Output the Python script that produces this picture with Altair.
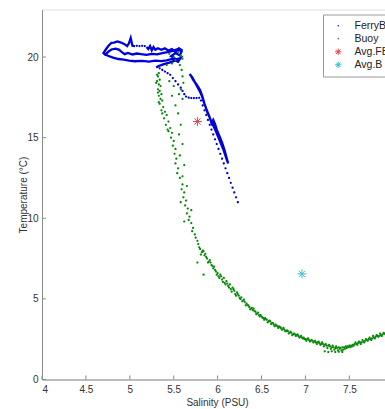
import altair as alt
import pandas as pd

# ---------------- data ----------------
series_names = ["FerryBox", "Buoy", "Avg.FB", "Avg.B"]
series_fill = ["#0000dd", "#0a8a0a", "transparent", "transparent"]
series_stroke = ["transparent", "transparent", "#e04848", "#3cbccc"]
dot = "M-0.25,0A0.25,0.25 0 1,0 0.25,0A0.25,0.25 0 1,0 -0.25,0Z"
asterisk = "M0,-1L0,1M-1,0L1,0M-0.7,-0.7L0.7,0.7M-0.7,0.7L0.7,-0.7"
series_shape = [dot, dot, asterisk, asterisk]

x_ticks = [4, 4.5, 5, 5.5, 6, 6.5, 7, 7.5]
y_ticks = [0, 5, 10, 15, 20]

# FerryBox dense track (drawn as connected traces)
ferry_track_top1 = [
    (5.60, 20.4), (5.56, 20.55), (5.52, 20.3), (5.48, 20.5), (5.44, 20.4), (5.40, 20.55),
    (5.36, 20.45), (5.32, 20.55), (5.29, 20.45), (5.27, 20.62), (5.25, 20.42), (5.23, 20.68),
    (5.21, 20.5), (5.19, 20.62),
]
ferry_track_top2 = [
    (5.06, 20.68), (5.03, 20.7), (5.01, 21.18), (4.99, 20.85), (4.97, 20.68), (4.94, 20.8),
    (4.90, 20.9), (4.86, 20.97), (4.82, 20.9), (4.79, 20.88), (4.76, 20.72), (4.73, 20.5),
    (4.70, 20.25), (4.72, 20.15), (4.76, 20.35), (4.79, 20.47), (4.84, 20.52), (4.88, 20.45),
    (4.91, 20.3), (4.94, 20.18), (4.98, 20.26), (5.03, 20.16), (5.08, 20.22), (5.13, 20.18),
    (5.19, 20.14), (5.25, 20.2), (5.31, 20.17), (5.37, 20.25), (5.43, 20.3), (5.49, 20.38),
    (5.54, 20.48), (5.59, 20.35), (5.57, 20.1), (5.52, 20.25), (5.47, 20.05), (5.53, 19.85),
    (5.58, 19.95), (5.55, 19.7), (5.48, 19.88), (5.42, 19.8), (5.36, 19.75), (5.29, 19.78),
    (5.22, 19.72), (5.14, 19.76), (5.06, 19.74), (4.99, 19.78), (4.93, 19.84), (4.87, 19.88),
    (4.81, 19.97), (4.75, 20.08), (4.71, 20.2),
]
ferry_track_drop = [
    (5.55, 19.9), (5.50, 19.75), (5.45, 19.65), (5.38, 19.55), (5.33, 19.45), (5.30, 19.35),
]
ferry_track_right = [
    (5.69, 18.9), (5.72, 18.6), (5.76, 18.3), (5.80, 17.95), (5.83, 17.5), (5.85, 17.1),
    (5.87, 16.8), (5.90, 16.4), (5.92, 16.1), (5.93, 15.9), (5.95, 16.1), (5.97, 15.85),
    (5.99, 15.5), (6.02, 15.1), (6.05, 14.7), (6.08, 14.2), (6.10, 13.8), (6.12, 13.4),
    (6.10, 13.7), (6.07, 14.2), (6.04, 14.6), (6.01, 15.0), (5.98, 15.4), (5.95, 15.75),
    (5.93, 15.95), (5.91, 16.25), (5.88, 16.6), (5.86, 16.95), (5.84, 17.25), (5.82, 17.6),
    (5.79, 17.95), (5.75, 18.35), (5.71, 18.75), (5.68, 18.95),
]
# FerryBox sparse points
ferry_dots = [
    (5.34, 19.3), (5.37, 19.2), (5.40, 19.1), (5.43, 19.0), (5.46, 18.9), (5.49, 18.7),
    (5.52, 18.5), (5.55, 18.3), (5.58, 18.1), (5.60, 17.9), (5.62, 17.7), (5.64, 17.55),
    (5.67, 17.48), (5.70, 17.46), (5.73, 17.46), (5.76, 17.46), (5.79, 17.47),
    (5.81, 17.3), (5.83, 17.0), (5.85, 16.7), (5.87, 16.4), (5.89, 16.1), (5.91, 15.8),
    (5.93, 15.5), (5.95, 15.2), (5.97, 14.9), (5.99, 14.6), (6.01, 14.3), (6.03, 14.0),
    (6.05, 13.7), (6.07, 13.4), (6.09, 13.1), (6.11, 12.8), (6.13, 12.5), (6.15, 12.2),
    (6.17, 11.9), (6.19, 11.6), (6.21, 11.3), (6.23, 11.0),
    (5.17, 20.68), (5.14, 20.7), (5.11, 20.68), (5.08, 20.7),
]

# Buoy points
buoy_upper = [
    (5.45, 20.2), (5.50, 20.0), (5.52, 19.8), (5.48, 19.6), (5.42, 19.5), (5.55, 20.3),
    (5.58, 20.1), (5.60, 19.9), (5.57, 19.5), (5.59, 19.2), (5.60, 18.8), (5.61, 18.4),
    (5.58, 18.0), (5.56, 17.7), (5.60, 17.4),
    (5.33, 19.0), (5.32, 18.8), (5.34, 18.6), (5.31, 18.5), (5.33, 18.3), (5.35, 18.2),
    (5.32, 18.0), (5.34, 17.9), (5.36, 17.7), (5.33, 17.6), (5.35, 17.4), (5.37, 17.3),
    (5.34, 17.1), (5.38, 16.9), (5.36, 16.7), (5.40, 16.6), (5.42, 16.4), (5.39, 16.2),
    (5.44, 16.0), (5.41, 15.8), (5.46, 15.6), (5.44, 15.4), (5.48, 15.3), (5.47, 15.0),
    (5.50, 14.8), (5.49, 14.5), (5.52, 14.3), (5.51, 14.0), (5.53, 13.7), (5.52, 13.4),
    (5.55, 13.1), (5.54, 12.8), (5.57, 12.5), (5.60, 12.1), (5.59, 11.8), (5.62, 11.6),
    (5.61, 11.3), (5.64, 11.1), (5.63, 10.8), (5.66, 10.6), (5.65, 10.3), (5.68, 10.1),
    (5.67, 9.9), (5.70, 9.7), (5.72, 9.4), (5.71, 9.2), (5.74, 9.0), (5.75, 8.8),
    (5.77, 8.6), (5.78, 8.4), (5.79, 8.2),
    (5.45, 18.5), (5.50, 18.2), (5.48, 17.6), (5.52, 17.0), (5.55, 16.5), (5.58, 15.8),
    (5.56, 15.2), (5.60, 14.6), (5.57, 13.9), (5.62, 13.3), (5.60, 12.6), (5.65, 12.0),
    (5.58, 11.0), (5.70, 10.5), (5.62, 9.8), (5.77, 7.25), (5.84, 6.5),
    (5.31, 18.9), (5.30, 18.4), (5.32, 17.8), (5.33, 17.2), (5.37, 16.5), (5.43, 15.5),
]
buoy_lower = [
    (5.80, 8.1), (5.82, 7.9), (5.83, 8.0), (5.85, 7.7), (5.86, 7.8), (5.88, 7.5),
    (5.90, 7.3), (5.91, 7.4), (5.93, 7.1), (5.95, 6.9), (5.96, 7.0), (5.98, 6.7),
    (6.00, 6.6), (6.01, 6.4), (6.03, 6.5), (6.05, 6.2), (6.07, 6.3), (6.08, 6.0),
    (6.10, 6.1), (6.12, 5.8), (6.14, 5.9), (6.15, 5.6), (6.17, 5.7), (6.19, 5.5),
    (6.20, 5.3), (6.22, 5.4), (6.24, 5.2), (6.26, 5.0), (6.27, 5.1), (6.29, 4.9),
    (6.31, 4.8), (6.33, 4.7), (6.34, 4.6), (6.36, 4.5), (6.38, 4.4), (6.40, 4.3),
    (6.41, 4.4), (6.43, 4.2), (6.45, 4.1), (6.47, 4.0), (6.49, 4.0), (6.50, 3.9),
    (6.52, 3.8), (6.54, 3.8), (6.56, 3.7), (6.58, 3.6), (6.60, 3.6), (6.62, 3.5),
    (6.64, 3.4), (6.66, 3.4), (6.68, 3.3), (6.70, 3.3), (6.72, 3.2), (6.74, 3.1),
    (6.76, 3.1), (6.78, 3.0), (6.80, 3.0), (6.82, 2.9), (6.84, 2.9), (6.86, 2.8),
    (6.88, 2.8), (6.90, 2.75), (6.92, 2.7), (6.94, 2.65), (6.96, 2.6), (6.98, 2.6),
    (7.00, 2.5), (7.02, 2.5), (7.04, 2.45), (7.06, 2.4), (7.08, 2.4), (7.10, 2.35),
    (7.12, 2.3), (7.14, 2.3), (7.16, 2.25), (7.18, 2.2), (7.20, 2.2), (7.22, 2.15),
    (7.24, 2.1), (7.26, 2.1), (7.28, 2.05), (7.30, 2.0), (7.32, 2.0), (7.34, 1.95),
    (7.36, 1.95), (7.38, 2.0), (7.40, 1.95), (7.42, 2.0), (7.44, 2.0), (7.46, 2.05),
    (7.48, 2.05), (7.50, 2.1), (7.52, 2.1), (7.54, 2.15), (7.56, 2.2), (7.58, 2.2),
    (7.60, 2.25), (7.62, 2.3), (7.64, 2.3), (7.66, 2.35), (7.68, 2.4), (7.70, 2.45),
    (7.72, 2.5), (7.74, 2.5), (7.76, 2.55), (7.78, 2.6), (7.80, 2.65), (7.82, 2.7),
    (7.84, 2.7), (7.86, 2.75), (7.88, 2.8), (7.90, 2.85),
]
buoy_lower_b = [
    (5.81, 7.75), (5.84, 7.95), (5.87, 7.6), (5.89, 7.25), (5.92, 7.25), (5.94, 7.05),
    (5.97, 6.8), (5.99, 6.5), (6.02, 6.3), (6.04, 6.4), (6.06, 6.05), (6.09, 5.9),
    (6.11, 5.95), (6.13, 5.7), (6.16, 5.45), (6.18, 5.6), (6.21, 5.2), (6.23, 5.3),
    (6.25, 5.05), (6.28, 4.85), (6.30, 4.95), (6.32, 4.6), (6.35, 4.6), (6.37, 4.35),
    (6.39, 4.45), (6.42, 4.25), (6.44, 4.05), (6.46, 4.15), (6.48, 3.9), (6.51, 3.85),
    (6.53, 3.7), (6.55, 3.75), (6.57, 3.55), (6.59, 3.65), (6.61, 3.45), (6.63, 3.5),
    (6.65, 3.3), (6.67, 3.35), (6.69, 3.2), (6.71, 3.25), (6.73, 3.1), (6.75, 3.2),
    (6.77, 3.0), (6.79, 3.05), (6.81, 2.85), (6.83, 2.95), (6.85, 2.75), (6.87, 2.85),
    (6.89, 2.7), (6.91, 2.8), (6.93, 2.6), (6.95, 2.7), (6.97, 2.55), (6.99, 2.5),
    (7.01, 2.4), (7.03, 2.55), (7.05, 2.35), (7.07, 2.45), (7.09, 2.3), (7.11, 2.4),
    (7.13, 2.2), (7.15, 2.35), (7.17, 2.15), (7.19, 2.3), (7.21, 2.05), (7.23, 2.2),
    (7.25, 1.95), (7.27, 2.15), (7.29, 1.9), (7.31, 2.1), (7.33, 1.85), (7.35, 2.05),
    (7.37, 1.8), (7.39, 1.9), (7.41, 1.8), (7.43, 1.85), (7.45, 1.9), (7.47, 1.95),
    (7.49, 2.0), (7.51, 2.0), (7.53, 2.05), (7.55, 2.1), (7.57, 2.3), (7.59, 2.15),
    (7.61, 2.35), (7.63, 2.2), (7.65, 2.45), (7.67, 2.3), (7.69, 2.5), (7.71, 2.4),
    (7.73, 2.6), (7.75, 2.45), (7.77, 2.7), (7.79, 2.55), (7.81, 2.75), (7.83, 2.65),
    (7.85, 2.85), (7.87, 2.7), (7.89, 2.9), (7.91, 2.8),
    (7.22, 1.75), (7.26, 1.7), (7.30, 1.75), (7.34, 1.7), (7.38, 1.72), (7.42, 1.7),
]

avg_fb = (5.77, 16.0)
avg_b = (6.96, 6.55)

# ---------------- build tables ----------------
track_rows = []
for name, seg in [("top1", ferry_track_top1), ("top2", ferry_track_top2),
                  ("drop", ferry_track_drop), ("right", ferry_track_right)]:
    for i, (s, t) in enumerate(seg):
        track_rows.append({"seg": name, "i": i, "sal": s, "temp": t})
track_df = pd.DataFrame(track_rows)

pt_rows = []
for s, t in ferry_dots:
    pt_rows.append({"series": "FerryBox", "sal": s, "temp": t})
for s, t in buoy_upper + buoy_lower + buoy_lower_b:
    pt_rows.append({"series": "Buoy", "sal": s, "temp": t})
pt_rows.append({"series": "Avg.FB", "sal": avg_fb[0], "temp": avg_fb[1]})
pt_rows.append({"series": "Avg.B", "sal": avg_b[0], "temp": avg_b[1]})
pt_df = pd.DataFrame(pt_rows)

xt_df = pd.DataFrame({"v": x_ticks})
yt_df = pd.DataFrame({"v": y_ticks})

W, H = 343, 370
x_scale = alt.Scale(domain=[4, 7.906], nice=False, zero=False)
y_scale = alt.Scale(domain=[0, 22.95], nice=False, zero=False)
axis_color = "#8a8a8a"
font = "Liberation Sans"

x_enc = alt.X("sal:Q", scale=x_scale, title="Salinity (PSU)",
              axis=alt.Axis(values=x_ticks, format="~g", ticks=False, grid=False,
                            domainColor=axis_color, labelFont=font, labelFontSize=10,
                            labelColor="#333", labelPadding=5, titleFont=font,
                            titleFontSize=10, titleFontWeight="normal", titleColor="#333",
                            titlePadding=3, titleX=175))
y_enc = alt.Y("temp:Q", scale=y_scale, title="Temperature (°C)",
              axis=alt.Axis(values=y_ticks, ticks=False, grid=False,
                            domainColor=axis_color, labelFont=font, labelFontSize=10,
                            labelColor="#333", labelPadding=4, titleFont=font,
                            titleFontSize=10, titleFontWeight="normal", titleColor="#333",
                            titlePadding=-2))

tracks = alt.Chart(track_df).mark_line(color="#0000dd", strokeWidth=2.3, clip=True).encode(
    x=x_enc, y=y_enc, detail="seg:N", order="i:Q")

pts = alt.Chart(pt_df).mark_point(strokeWidth=1, opacity=1, size=80, clip=True).encode(
    x=alt.X("sal:Q", scale=x_scale),
    y=alt.Y("temp:Q", scale=y_scale),
    fill=alt.Fill("series:N", scale=alt.Scale(domain=series_names, range=series_fill),
                  title=None,
                  legend=alt.Legend(orient="none", legendX=281, legendY=5,
                                    fillColor="white", strokeColor="#9a9a9a",
                                    padding=6, rowPadding=2, labelFont=font,
                                    labelFontSize=10.5, labelColor="#222",
                                    symbolSize=40, symbolOffset=4, labelOffset=11,
                                    symbolStrokeWidth=1)),
    stroke=alt.Stroke("series:N", scale=alt.Scale(domain=series_names, range=series_stroke),
                      title=None),
    shape=alt.Shape("series:N", scale=alt.Scale(domain=series_names, range=series_shape),
                    title=None),
)

xticks = alt.Chart(xt_df).mark_rule(color=axis_color, strokeWidth=1).encode(
    x=alt.X("v:Q", scale=x_scale), y=alt.value(H), y2=alt.value(H - 4))
yticks = alt.Chart(yt_df).mark_rule(color=axis_color, strokeWidth=1).encode(
    y=alt.Y("v:Q", scale=y_scale), x=alt.value(0), x2=alt.value(4))

chart = alt.layer(tracks, pts, xticks, yticks).properties(
    width=W, height=H,
    autosize=alt.AutoSizeParams(type="none"),
    padding={"left": 42, "top": 9.5, "right": 0, "bottom": 29.5},
).configure_view(stroke=None).configure(background="white")

chart.save("out.html", embed_options={"renderer": "svg", "actions": False})
